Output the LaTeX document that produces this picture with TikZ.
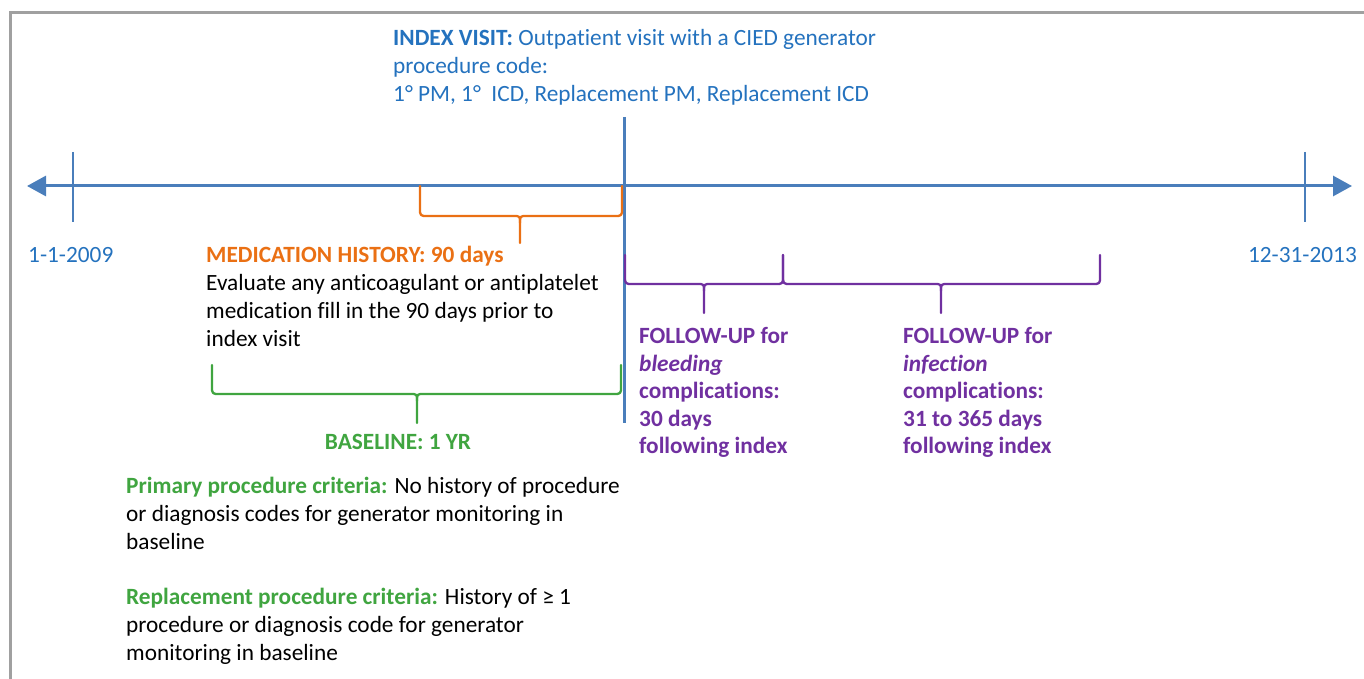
\documentclass[tikz,border=0pt]{standalone}
\usepackage{fontspec}
\setmainfont[Ligatures=NoCommon]{Carlito}
\usetikzlibrary{arrows.meta}
\definecolor{axisblue}{RGB}{74,126,187}
\definecolor{txtblue}{RGB}{36,114,190}
\definecolor{medorange}{RGB}{234,112,20}
\definecolor{basegreen}{RGB}{64,165,64}
\definecolor{fupurple}{RGB}{112,48,160}
\definecolor{framegray}{RGB}{160,160,160}
\newcommand{\mybrace}[7]{%
  \draw[#7] (#1,#4) -- (#1,#5-8) .. controls (#1,#5) .. (#1+8,#5) -- (#3-7,#5) .. controls (#3,#5) .. (#3,#5+7) -- (#3,#6);
  \draw[#7] (#2,#4) -- (#2,#5-8) .. controls (#2,#5) .. (#2-8,#5) -- (#3+7,#5) .. controls (#3,#5) .. (#3,#5+7);
}
\begin{document}
\begin{tikzpicture}[x=1pt,y=-1pt,
  txt/.style={inner sep=0pt, anchor=north west, align=left, font=\fontsize{23.3}{28}\selectfont},
  brc/.style={line width=2.3pt, line join=round, line cap=round},
  tick/.style={axisblue, line width=1.8pt}]
\useasboundingbox (0,0) rectangle (1364,679);
% frame
\draw[framegray, line width=3pt] (10,700) -- (10,13) -- (1380,13);
% timeline
\coordinate (tl) at (27,186);
\coordinate (tr) at (1352,186);
\draw[axisblue, line width=3pt, {Triangle[length=19pt,width=20pt]}-{Triangle[length=19pt,width=20pt]}] (tl) -- (tr);
\coordinate (t1a) at (73,152); \coordinate (t1b) at (73,222);
\coordinate (t2a) at (1305,152); \coordinate (t2b) at (1305,222);
\draw[tick] (t1a) -- (t1b);
\draw[tick] (t2a) -- (t2b);
\coordinate (ia) at (624,117); \coordinate (ib) at (624,423);
\draw[axisblue, line width=3pt] (ia) -- (ib);
% dates
\node[txt, txtblue] (d1) at (28,242.4) {\strut 1-1-2009};
\node[txt, txtblue, anchor=north east] (d2) at (1357,242.4) {\strut 12-31-2013};
% index visit
\node[txt, txtblue] (idx) at (393,25.4) {\strut\textbf{INDEX VISIT:} Outpatient visit with a CIED generator\\procedure code:\\1° PM, 1°\ \ ICD, Replacement PM, Replacement ICD};
% braces
\mybrace{420}{622}{520}{186}{216}{243}{medorange,brc}
\mybrace{212}{621}{417}{365}{394}{423}{basegreen,brc}
\mybrace{625}{783}{704}{255}{284}{313}{fupurple,brc}
\mybrace{783}{1100}{941}{255}{284}{313}{fupurple,brc}
% medication
\node[txt] (med) at (206,242.4) {\strut\textcolor{medorange}{\textbf{MEDICATION HISTORY: 90 days}}\\Evaluate any anticoagulant or antiplatelet\\medication fill in the 90 days prior to\\index visit};
% baseline
\node[inner sep=0pt, anchor=base, font=\fontsize{23.3}{28}\selectfont\bfseries, text=basegreen] (bl) at (398,449) {BASELINE: 1 YR};
% criteria
\node[txt] (prim) at (126,473.4) {\strut\textcolor{basegreen}{\textbf{Primary procedure criteria:}} No history of procedure\\or diagnosis codes for generator monitoring in\\baseline};
\node[txt] (repl) at (126,584.4) {\strut\textcolor{basegreen}{\textbf{Replacement procedure criteria:}} History of ≥ 1\\procedure or diagnosis code for generator\\monitoring in baseline};
% follow-up
\node[txt, text=fupurple, font=\fontsize{23.3}{27.5}\selectfont\bfseries] (fu1) at (639,324.4) {\strut FOLLOW-UP for\\\textit{bleeding}\\complications:\\30 days\\following index};
\node[txt, text=fupurple, font=\fontsize{23.3}{27.5}\selectfont\bfseries] (fu2) at (903,324.4) {\strut FOLLOW-UP for\\\textit{infection}\\complications:\\31 to 365 days\\following index};
\end{tikzpicture}
\end{document}
